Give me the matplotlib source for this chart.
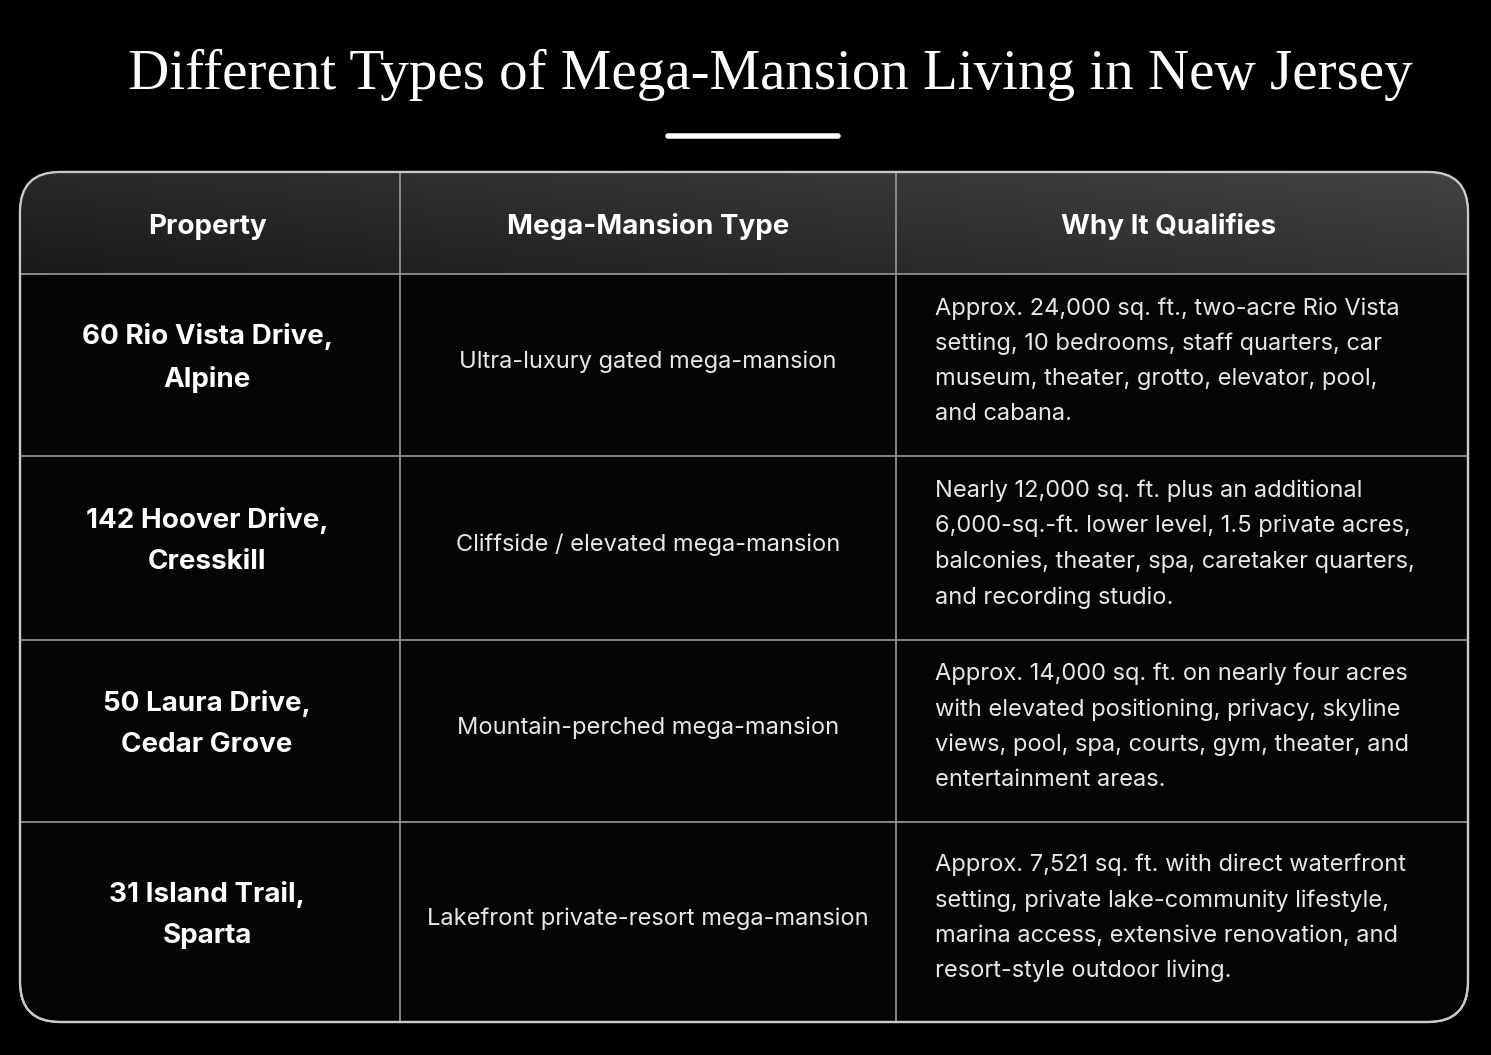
import matplotlib
matplotlib.use("Agg")
import matplotlib.pyplot as plt
import numpy as np
from matplotlib.patches import FancyBboxPatch

title = "Different Types of Mega-Mansion Living in New Jersey"
headers = ["Property", "Mega-Mansion Type", "Why It Qualifies"]
properties = ["60 Rio Vista Drive,\nAlpine", "142 Hoover Drive,\nCresskill",
              "50 Laura Drive,\nCedar Grove", "31 Island Trail,\nSparta"]
types = ["Ultra-luxury gated mega-mansion", "Cliffside / elevated mega-mansion",
         "Mountain-perched mega-mansion", "Lakefront private-resort mega-mansion"]
reasons = [
    "Approx. 24,000 sq. ft., two-acre Rio Vista\nsetting, 10 bedrooms, staff quarters, car\nmuseum, theater, grotto, elevator, pool,\nand cabana.",
    "Nearly 12,000 sq. ft. plus an additional\n6,000-sq.-ft. lower level, 1.5 private acres,\nbalconies, theater, spa, caretaker quarters,\nand recording studio.",
    "Approx. 14,000 sq. ft. on nearly four acres\nwith elevated positioning, privacy, skyline\nviews, pool, spa, courts, gym, theater, and\nentertainment areas.",
    "Approx. 7,521 sq. ft. with direct waterfront\nsetting, private lake-community lifestyle,\nmarina access, extensive renovation, and\nresort-style outdoor living.",
]

W, H = 1491, 1055
fig = plt.figure(figsize=(W/100, H/100), dpi=100, facecolor="black")
ax = fig.add_axes([0, 0, 1, 1])
ax.set_xlim(0, W); ax.set_ylim(H, 0); ax.axis("off")
ax.set_facecolor("black")

ax.text(770, 75, title, color="white", fontsize=41, family="Liberation Serif",
        ha="center", va="center")
ax.plot([668, 838], [136, 136], color="white", lw=4, solid_capstyle="round")

x0, x1, y0, y1 = 20, 1468, 172, 1022
cols = [20, 400, 896, 1468]
rows = [172, 274, 456, 640, 822, 1022]

box = FancyBboxPatch((x0, y0), x1-x0, y1-y0, boxstyle="round,pad=0,rounding_size=40",
                     facecolor="#050505", edgecolor="#c8c8c8", lw=1.6, zorder=1)
ax.add_patch(box)
grad = np.linspace(0, 1, 200)[None, :]
gy = np.linspace(0, 1, 50)[:, None]
img = 0.10 + 0.10*grad + 0.06*(1-gy)
im = ax.imshow(np.dstack([img, img, img]), extent=(x0, x1, rows[1], y0),
               aspect="auto", zorder=2, interpolation="bilinear")
clip = FancyBboxPatch((x0, y0), x1-x0, y1-y0, boxstyle="round,pad=0,rounding_size=40",
                      transform=ax.transData, facecolor="none", edgecolor="none")
ax.add_patch(clip)
im.set_clip_path(clip)
ax.add_patch(FancyBboxPatch((x0, y0), x1-x0, y1-y0, boxstyle="round,pad=0,rounding_size=40",
                            facecolor="none", edgecolor="#c8c8c8", lw=1.6, zorder=4))

for x in cols[1:-1]:
    ax.plot([x, x], [y0, y1], color="#9a9a9a", lw=1.2, zorder=3)
for y in rows[1:-1]:
    ax.plot([x0, x1], [y, y], color="#9a9a9a", lw=1.2, zorder=3)

fam = ["Inter", "DejaVu Sans"]
hc = [(cols[i]+cols[i+1])/2 for i in range(3)]
hc[0] -= 3; hc[2] -= 13
for i, h in enumerate(headers):
    ax.text(hc[i], (rows[0]+rows[1])/2 + 4, h, color="white", fontsize=20, weight="bold",
            family=fam, ha="center", va="center", zorder=5)
for r in range(4):
    yc = (rows[r+1]+rows[r+2])/2
    ax.text(hc[0], yc - 7, properties[r], color="white", fontsize=20, weight="bold",
            family=fam, ha="center", va="center", linespacing=1.75, zorder=5)
    ax.text(hc[1], yc - 3, types[r], color="#e8e8e8", fontsize=17,
            family=fam, ha="center", va="center", zorder=5)
    ax.text(935, yc - 4, reasons[r], color="#e8e8e8", fontsize=17,
            family=fam, ha="left", va="center", linespacing=1.75, zorder=5)

fig.savefig("out.png", dpi=100, facecolor="black")
